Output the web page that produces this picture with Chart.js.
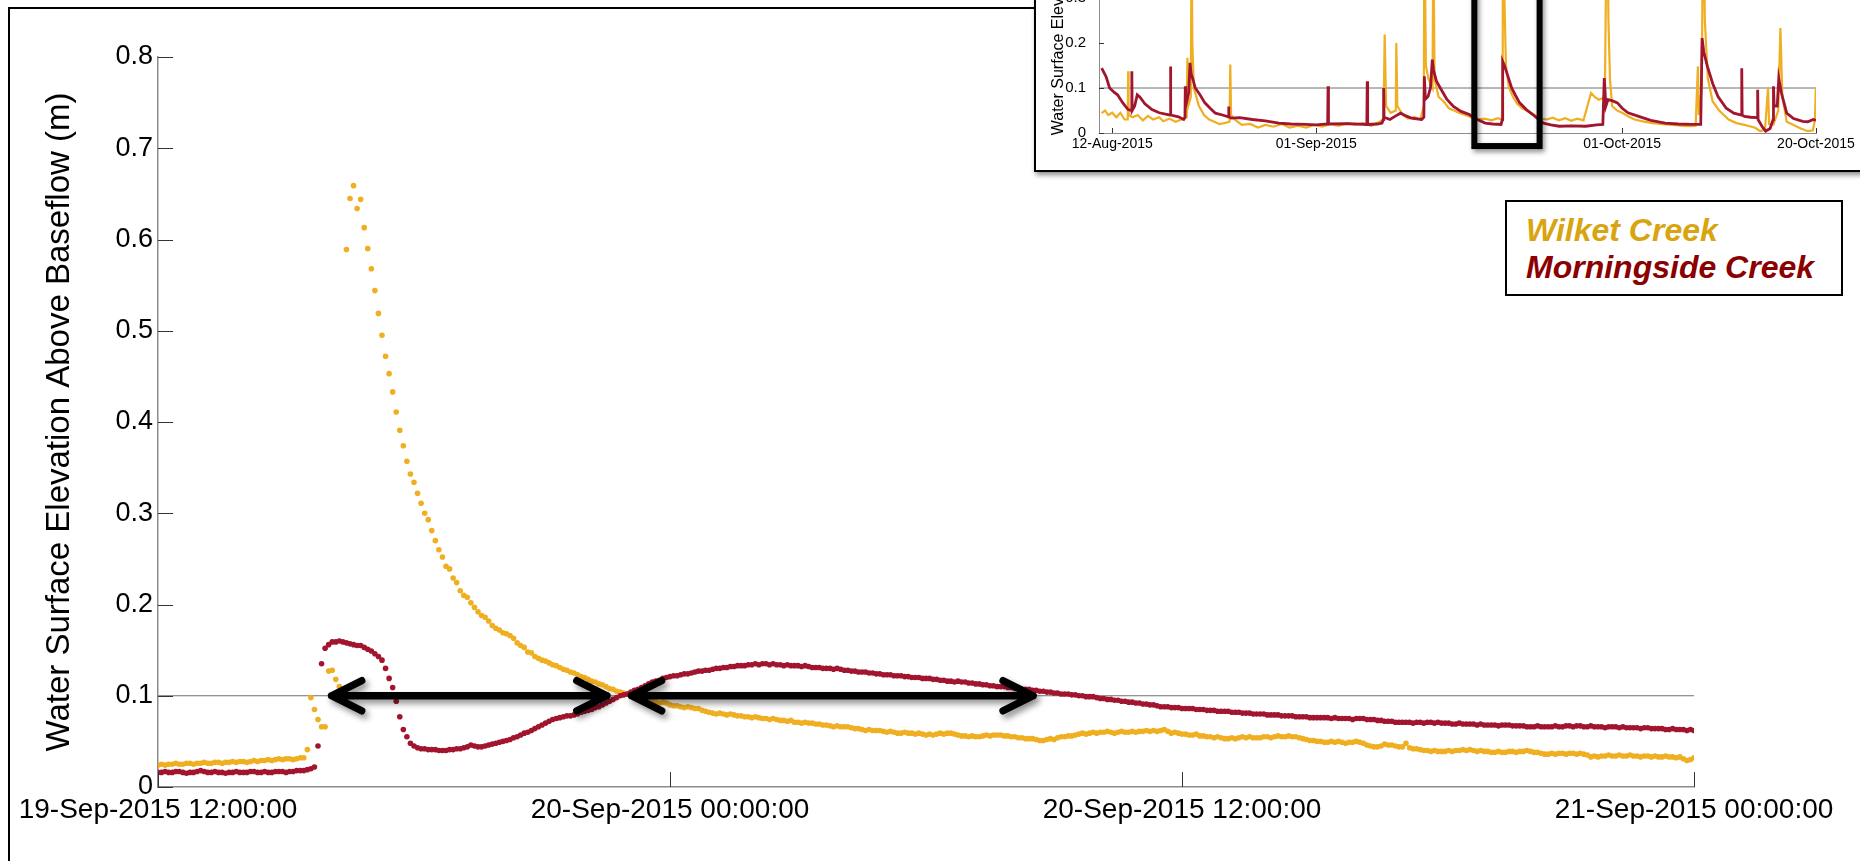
<!DOCTYPE html>
<html>
<head>
<meta charset="utf-8">
<script src="https://cdn.jsdelivr.net/npm/chart.js@4.4.1/dist/chart.umd.min.js"></script>
<style>
  html, body { margin: 0; padding: 0; background: #fff; }
  body { width: 1860px; height: 861px; overflow: hidden; position: relative; font-family: 'Liberation Sans', Arial, Helvetica, sans-serif; }
  #main { position: absolute; left: 0; top: 0; }
  #frame { position: absolute; left: 8px; top: 7px; width: 2000px; height: 1000px; border-left: 2px solid #000; border-top: 2px solid #000; }
  #insetBox { position: absolute; left: 1034px; top: -4px; width: 830px; height: 176px; box-sizing: border-box;
              border: 2px solid #000; background: #fff; overflow: hidden; box-shadow: 2px 3px 5px rgba(0,0,0,0.45); }
  #inset { position: absolute; left: 0; top: -228px; }
  #legend { position: absolute; left: 1505px; top: 200px; width: 338px; height: 96px; box-sizing: border-box;
            border: 2px solid #000; background: #fff; padding: 10px 0 0 19px;
            font: italic bold 32px 'Liberation Sans', Arial, sans-serif; line-height: 37px; white-space: nowrap; }
  #legend .w { color: #D8A40F; }
  #legend .m { color: #8B0000; }
</style>
</head>
<body>
<canvas id="main" width="1860" height="861"></canvas>
<div id="frame"></div>
<div id="insetBox"><canvas id="inset" width="900" height="400"></canvas></div>
<div id="legend"><div class="w">Wilket Creek</div><div class="m">Morningside Creek</div></div>
<script>
// 5-minute water levels, 19-Sep-2015 12:00 to 21-Sep-2015 00:00
const sampleMinutes = 5;
const wilketLevels = [
  0.024,0.025,0.024,0.025,0.025,0.026,0.025,0.025,0.026,0.026,
  0.025,0.026,0.026,0.027,0.026,0.026,0.027,0.027,0.026,0.027,
  0.027,0.028,0.027,0.028,0.028,0.027,0.028,0.029,0.028,0.029,
  0.029,0.030,0.029,0.030,0.031,0.030,0.031,0.031,0.030,0.031,
  0.032,0.032,0.041,0.098,0.085,0.074,0.066,0.066,0.127,0.128,
  0.118,0.110,0.107,0.589,0.645,0.659,0.634,0.644,0.613,0.590,
  0.568,0.544,0.519,0.495,0.472,0.453,0.433,0.411,0.391,0.374,
  0.357,0.343,0.334,0.322,0.311,0.300,0.293,0.281,0.270,0.260,
  0.252,0.242,0.239,0.229,0.224,0.215,0.210,0.208,0.202,0.197,
  0.192,0.188,0.186,0.182,0.177,0.174,0.172,0.169,0.168,0.166,
  0.163,0.158,0.155,0.153,0.148,0.147,0.143,0.141,0.139,0.138,
  0.136,0.134,0.133,0.131,0.129,0.128,0.126,0.125,0.123,0.121,
  0.120,0.118,0.116,0.115,0.113,0.112,0.110,0.108,0.107,0.105,
  0.104,0.103,0.102,0.101,0.100,0.098,0.097,0.096,0.095,0.094,
  0.093,0.092,0.093,0.092,0.090,0.089,0.089,0.088,0.087,0.088,
  0.087,0.086,0.086,0.084,0.083,0.082,0.081,0.080,0.081,0.080,
  0.079,0.080,0.079,0.078,0.078,0.077,0.077,0.076,0.077,0.076,
  0.075,0.075,0.074,0.075,0.074,0.073,0.073,0.072,0.073,0.071,
  0.071,0.070,0.071,0.070,0.070,0.069,0.069,0.068,0.068,0.067,
  0.066,0.067,0.066,0.066,0.066,0.065,0.064,0.064,0.063,0.062,
  0.063,0.062,0.062,0.062,0.061,0.060,0.061,0.060,0.059,0.059,
  0.060,0.059,0.059,0.058,0.059,0.058,0.057,0.058,0.057,0.058,
  0.059,0.058,0.059,0.059,0.058,0.057,0.056,0.056,0.055,0.056,
  0.055,0.055,0.056,0.057,0.056,0.057,0.057,0.057,0.056,0.056,
  0.055,0.055,0.054,0.054,0.053,0.053,0.053,0.052,0.051,0.051,
  0.052,0.053,0.052,0.054,0.055,0.055,0.056,0.056,0.057,0.058,
  0.059,0.058,0.059,0.060,0.059,0.060,0.060,0.061,0.060,0.059,
  0.060,0.061,0.060,0.060,0.061,0.060,0.061,0.061,0.062,0.061,
  0.062,0.061,0.062,0.063,0.061,0.059,0.060,0.059,0.058,0.058,
  0.057,0.057,0.058,0.056,0.056,0.055,0.055,0.054,0.055,0.054,
  0.053,0.053,0.054,0.053,0.054,0.055,0.054,0.055,0.054,0.054,
  0.054,0.055,0.055,0.054,0.055,0.056,0.055,0.055,0.056,0.055,
  0.055,0.054,0.053,0.052,0.051,0.051,0.050,0.050,0.049,0.049,
  0.050,0.049,0.050,0.049,0.048,0.049,0.049,0.050,0.049,0.048,
  0.046,0.045,0.044,0.044,0.045,0.047,0.046,0.046,0.045,0.044,
  0.044,0.048,0.043,0.042,0.042,0.041,0.040,0.040,0.039,0.040,
  0.039,0.039,0.039,0.040,0.039,0.040,0.040,0.041,0.040,0.041,
  0.040,0.039,0.040,0.039,0.039,0.038,0.038,0.039,0.038,0.038,
  0.039,0.039,0.038,0.039,0.039,0.040,0.039,0.038,0.038,0.037,
  0.036,0.036,0.037,0.036,0.037,0.037,0.036,0.037,0.037,0.036,
  0.037,0.036,0.035,0.033,0.034,0.033,0.034,0.034,0.035,0.034,
  0.034,0.035,0.034,0.034,0.035,0.034,0.034,0.033,0.034,0.034,
  0.033,0.034,0.033,0.033,0.034,0.033,0.033,0.032,0.033,0.031,
  0.029,0.030,0.032
];
const morningsideLevels = [
  0.016,0.016,0.017,0.016,0.016,0.017,0.017,0.016,0.015,0.016,
  0.016,0.017,0.018,0.017,0.016,0.016,0.017,0.016,0.016,0.015,
  0.016,0.016,0.017,0.016,0.016,0.016,0.017,0.017,0.016,0.016,
  0.017,0.016,0.016,0.017,0.017,0.017,0.016,0.017,0.017,0.018,
  0.018,0.018,0.019,0.020,0.022,0.045,0.135,0.152,0.156,0.159,
  0.159,0.160,0.159,0.158,0.157,0.156,0.155,0.155,0.153,0.151,
  0.149,0.146,0.143,0.139,0.130,0.119,0.109,0.094,0.077,0.063,
  0.055,0.048,0.045,0.043,0.042,0.042,0.041,0.041,0.041,0.040,
  0.040,0.040,0.041,0.041,0.042,0.042,0.043,0.044,0.046,0.045,
  0.044,0.044,0.045,0.046,0.047,0.048,0.049,0.050,0.051,0.052,
  0.054,0.055,0.057,0.059,0.060,0.062,0.064,0.066,0.068,0.070,
  0.072,0.074,0.075,0.076,0.077,0.078,0.078,0.079,0.080,0.082,
  0.083,0.084,0.085,0.087,0.088,0.090,0.092,0.094,0.096,0.098,
  0.100,0.101,0.102,0.104,0.106,0.107,0.109,0.111,0.113,0.115,
  0.116,0.117,0.119,0.120,0.121,0.122,0.122,0.123,0.124,0.124,
  0.125,0.126,0.127,0.127,0.128,0.128,0.129,0.130,0.130,0.131,
  0.131,0.132,0.132,0.133,0.133,0.133,0.134,0.134,0.135,0.134,
  0.135,0.135,0.134,0.135,0.134,0.134,0.133,0.134,0.133,0.133,
  0.133,0.132,0.133,0.132,0.131,0.131,0.131,0.130,0.130,0.130,
  0.129,0.130,0.129,0.128,0.128,0.127,0.127,0.126,0.126,0.126,
  0.125,0.125,0.124,0.124,0.123,0.123,0.123,0.122,0.122,0.122,
  0.121,0.121,0.120,0.120,0.120,0.119,0.119,0.119,0.118,0.118,
  0.117,0.117,0.116,0.116,0.115,0.116,0.115,0.115,0.114,0.114,
  0.113,0.113,0.112,0.112,0.111,0.111,0.110,0.110,0.110,0.109,
  0.109,0.108,0.108,0.107,0.107,0.107,0.106,0.106,0.105,0.105,
  0.104,0.104,0.103,0.103,0.102,0.102,0.102,0.101,0.101,0.100,
  0.100,0.099,0.099,0.099,0.098,0.097,0.097,0.096,0.096,0.095,
  0.095,0.094,0.094,0.093,0.093,0.092,0.092,0.091,0.091,0.090,
  0.090,0.089,0.088,0.088,0.088,0.087,0.087,0.087,0.086,0.086,
  0.086,0.086,0.085,0.085,0.085,0.084,0.084,0.084,0.083,0.083,
  0.083,0.083,0.082,0.082,0.082,0.081,0.081,0.081,0.080,0.080,
  0.080,0.080,0.079,0.079,0.079,0.079,0.078,0.078,0.078,0.078,
  0.077,0.077,0.077,0.077,0.076,0.076,0.076,0.076,0.076,0.076,
  0.075,0.076,0.075,0.075,0.075,0.075,0.074,0.075,0.075,0.075,
  0.074,0.074,0.074,0.073,0.073,0.072,0.072,0.072,0.071,0.071,
  0.071,0.071,0.071,0.070,0.071,0.071,0.070,0.071,0.071,0.070,
  0.071,0.070,0.070,0.070,0.069,0.069,0.070,0.069,0.069,0.069,
  0.069,0.068,0.069,0.068,0.068,0.068,0.068,0.067,0.068,0.068,
  0.068,0.067,0.067,0.067,0.067,0.066,0.066,0.066,0.067,0.066,
  0.066,0.066,0.066,0.067,0.066,0.066,0.067,0.067,0.066,0.067,
  0.067,0.066,0.066,0.067,0.066,0.066,0.066,0.065,0.066,0.066,
  0.066,0.065,0.066,0.065,0.065,0.065,0.065,0.064,0.065,0.065,
  0.064,0.064,0.064,0.064,0.063,0.063,0.064,0.063,0.063,0.063,
  0.062,0.063,0.062
];
const xTickHours = [0, 12, 24, 36];
const xTickLabels = ['19-Sep-2015 12:00:00', '20-Sep-2015 00:00:00', '20-Sep-2015 12:00:00', '21-Sep-2015 00:00:00'];
const yTickValues = [0, 0.1, 0.2, 0.3, 0.4, 0.5, 0.6, 0.7, 0.8];
const yTitle = 'Water Surface Elevation Above Baseflow (m)';
const baseflowLevel = 0.1;
const arrowSpansHours = [[4.07, 10.52], [11.10, 20.51]];

// inset: whole season, days since 12-Aug-2015
const insetWilket = [[-1.04,0.044],[-0.7,0.050],[-0.4,0.040],[0.0,0.045],[0.4,0.035],[0.8,0.045],[1.2,0.030],[1.52,0.030],[1.56,0.137],[1.6,0.040],[2.0,0.035],[2.5,0.040],[3.0,0.028],[3.5,0.038],[4.0,0.030],[4.6,0.035],[5.0,0.026],[5.6,0.032],[6.2,0.025],[6.8,0.030],[7.3,0.035],[7.37,0.167],[7.45,0.060],[7.7,0.080],[7.78,0.450],[7.85,0.200],[8.0,0.100],[8.5,0.060],[9.0,0.040],[9.5,0.030],[10.0,0.025],[10.5,0.020],[11.0,0.022],[11.5,0.025],[11.57,0.152],[11.65,0.040],[12.0,0.030],[12.7,0.018],[13.5,0.020],[14.3,0.012],[15.0,0.018],[15.8,0.014],[16.6,0.020],[17.4,0.012],[18.2,0.016],[19.0,0.012],[19.8,0.018],[20.6,0.014],[21.4,0.020],[22.2,0.016],[23.0,0.022],[23.8,0.018],[24.6,0.022],[25.4,0.016],[26.2,0.025],[26.6,0.030],[26.71,0.219],[26.85,0.060],[27.3,0.045],[27.8,0.050],[27.85,0.200],[27.95,0.060],[28.5,0.040],[29.0,0.032],[29.6,0.036],[30.2,0.030],[30.55,0.060],[30.6,0.500],[30.75,0.150],[31.0,0.120],[31.4,0.100],[31.48,0.450],[31.6,0.120],[32.0,0.080],[32.5,0.070],[33.0,0.055],[33.5,0.050],[34.0,0.045],[35.0,0.037],[35.8,0.030],[36.5,0.032],[37.2,0.028],[37.8,0.033],[38.2,0.030],[38.28,0.100],[38.32,0.660],[38.45,0.300],[38.6,0.150],[38.9,0.100],[39.3,0.080],[39.7,0.065],[40.2,0.055],[40.8,0.048],[41.4,0.040],[42.0,0.032],[42.6,0.030],[43.2,0.034],[43.8,0.028],[44.4,0.033],[45.0,0.027],[45.6,0.032],[46.2,0.028],[46.94,0.089],[47.3,0.080],[47.72,0.074],[48.3,0.080],[48.5,0.550],[48.65,0.250],[48.8,0.120],[49.01,0.060],[49.5,0.050],[50.0,0.045],[50.57,0.037],[51.2,0.030],[52.0,0.026],[53.0,0.022],[54.2,0.019],[55.0,0.018],[56.0,0.016],[56.8,0.015],[57.2,0.016],[57.42,0.148],[57.5,0.040],[57.8,0.100],[57.94,0.550],[58.1,0.250],[58.4,0.120],[58.87,0.070],[59.5,0.050],[60.43,0.030],[61.2,0.022],[62.0,0.018],[62.5,0.015],[63.0,0.012],[63.54,0.004],[64.0,0.008],[64.3,0.100],[64.4,0.020],[64.83,0.019],[65.3,0.050],[65.51,0.233],[65.7,0.080],[66.13,0.025],[66.8,0.018],[67.5,0.010],[68.21,0.004],[68.7,0.006],[68.9,0.030],[68.98,0.100]];
const insetMorningside = [[-1.04,0.144],[-0.6,0.125],[-0.26,0.100],[0.2,0.090],[0.52,0.085],[1.0,0.068],[1.3,0.059],[1.56,0.052],[1.89,0.050],[1.92,0.137],[1.95,0.050],[2.2,0.060],[2.45,0.085],[2.7,0.080],[3.2,0.065],[3.89,0.052],[4.6,0.045],[5.45,0.041],[5.68,0.040],[5.71,0.148],[5.74,0.040],[6.5,0.036],[7.0,0.030],[7.13,0.035],[7.16,0.104],[7.2,0.060],[7.5,0.090],[7.62,0.156],[7.75,0.130],[7.9,0.120],[8.14,0.100],[8.6,0.085],[9.08,0.067],[9.6,0.055],[10.11,0.044],[10.8,0.040],[11.38,0.036],[11.41,0.059],[11.44,0.036],[11.67,0.033],[12.5,0.034],[13.74,0.030],[15.0,0.027],[16.34,0.022],[17.5,0.020],[18.93,0.019],[20.0,0.018],[21.12,0.020],[21.16,0.104],[21.2,0.020],[23.08,0.021],[24.96,0.019],[25.0,0.115],[25.04,0.019],[26.0,0.020],[26.45,0.022],[26.57,0.030],[26.61,0.100],[26.65,0.035],[27.23,0.030],[27.8,0.038],[28.27,0.044],[28.8,0.038],[29.3,0.033],[30.34,0.030],[30.55,0.035],[30.6,0.126],[30.7,0.075],[30.96,0.081],[31.2,0.100],[31.38,0.163],[31.5,0.140],[31.79,0.115],[32.16,0.100],[32.8,0.075],[33.45,0.059],[34.2,0.048],[35.01,0.041],[35.8,0.030],[36.57,0.022],[37.3,0.020],[38.12,0.019],[38.25,0.030],[38.28,0.159],[38.45,0.150],[38.64,0.137],[39.16,0.100],[39.5,0.085],[39.94,0.067],[40.6,0.052],[41.23,0.041],[41.8,0.030],[42.27,0.022],[43.0,0.018],[43.83,0.015],[45.0,0.016],[46.42,0.015],[47.5,0.018],[48.1,0.019],[48.24,0.122],[48.4,0.060],[48.6,0.074],[49.0,0.072],[49.53,0.067],[50.0,0.055],[50.57,0.045],[51.61,0.037],[52.8,0.028],[54.2,0.022],[55.5,0.020],[56.8,0.019],[57.7,0.019],[57.83,0.211],[58.0,0.180],[58.35,0.148],[58.87,0.110],[59.39,0.081],[60.2,0.055],[60.94,0.044],[61.68,0.040],[61.72,0.144],[61.76,0.040],[61.98,0.037],[62.6,0.035],[63.24,0.034],[63.28,0.096],[63.32,0.030],[63.7,0.015],[64.06,0.004],[64.5,0.010],[64.8,0.030],[64.83,0.104],[64.9,0.060],[65.2,0.060],[65.35,0.122],[65.6,0.090],[66.13,0.044],[66.8,0.032],[67.69,0.026],[68.2,0.025],[68.72,0.030],[68.98,0.028]];
const insetTickDays = [0, 20, 50, 69];
const insetTickLabels = ['12-Aug-2015', '01-Sep-2015', '01-Oct-2015', '20-Oct-2015'];
const insetTickValues = [0, 0.1, 0.2, 0.3, 0.4, 0.5, 0.6, 0.7];
const insetWindowDays = [35.5, 41.9];   // the event shown in the big chart

const YELLOW = '#EFAF21';
const RED = '#A1152E';
const fontFamily = "'Liberation Sans', Arial, Helvetica, sans-serif";
Chart.defaults.font.family = fontFamily;
Chart.defaults.color = '#000';

function toPoints(vals) {
  return vals.map((v, i) => ({ x: i * sampleMinutes / 60, y: v }));
}
function pairsToPoints(pairs) {
  return pairs.map(p => ({ x: p[0], y: p[1] }));
}

/* MATLAB style ticks, pointing into the plot */
const inwardTicks = {
  id: 'inwardTicks',
  afterDraw(chart, args, opts) {
    const { ctx, chartArea: a, scales: { x, y } } = chart;
    ctx.save();
    ctx.strokeStyle = opts.color || '#333';
    ctx.lineWidth = 1;
    ctx.beginPath();
    x.ticks.forEach(t => {
      const px = Math.round(x.getPixelForValue(t.value)) + 0.5;
      ctx.moveTo(px, a.bottom);
      ctx.lineTo(px, a.bottom - opts.length);
    });
    y.ticks.forEach(t => {
      const py = Math.round(y.getPixelForValue(t.value)) + 0.5;
      ctx.moveTo(a.left, py);
      ctx.lineTo(a.left + opts.length, py);
    });
    ctx.stroke();
    ctx.restore();
  }
};

/* double arrows on the baseflow line */
const arrows = {
  id: 'arrows',
  afterDatasetsDraw(chart) {
    const { ctx, scales: { x, y } } = chart;
    const py = y.getPixelForValue(baseflowLevel);
    ctx.save();
    ctx.strokeStyle = '#000';
    ctx.lineWidth = 7.5;
    ctx.lineCap = 'round';
    ctx.lineJoin = 'round';
    ctx.shadowColor = 'rgba(0,0,0,0.45)';
    ctx.shadowBlur = 6;
    ctx.shadowOffsetX = 3;
    ctx.shadowOffsetY = 4;
    arrowSpansHours.forEach(span => {
      const x1 = x.getPixelForValue(span[0]);
      const x2 = x.getPixelForValue(span[1]);
      ctx.beginPath();
      ctx.moveTo(x1, py); ctx.lineTo(x2, py);
      ctx.moveTo(x1 + 30, py - 15); ctx.lineTo(x1, py); ctx.lineTo(x1 + 30, py + 15);
      ctx.moveTo(x2 - 30, py - 15); ctx.lineTo(x2, py); ctx.lineTo(x2 - 30, py + 15);
      ctx.stroke();
    });
    ctx.restore();
  }
};

/* black box in the inset marking the zoomed event */
const windowBox = {
  id: 'windowBox',
  afterDraw(chart) {
    const { ctx, scales: { x, y } } = chart;
    const x1 = x.getPixelForValue(insetWindowDays[0]);
    const x2 = x.getPixelForValue(insetWindowDays[1]);
    const yb = y.getPixelForValue(-0.029);
    const yt = y.getPixelForValue(0.75);
    ctx.save();
    ctx.strokeStyle = '#000';
    ctx.lineWidth = 6;
    ctx.shadowColor = 'rgba(0,0,0,0.45)';
    ctx.shadowBlur = 5;
    ctx.shadowOffsetX = 2;
    ctx.shadowOffsetY = 3;
    ctx.strokeRect(x1, yt, x2 - x1, yb - yt);
    ctx.restore();
  }
};

/* Main graph */
new Chart(document.getElementById('main'), {
  type: 'scatter',
  data: {
    datasets: [{
      label: 'Baseflow',
      type: 'line',
      data: [{ x: xTickHours[0], y: baseflowLevel }, { x: xTickHours[xTickHours.length - 1], y: baseflowLevel }],
      borderColor: '#707070',
      borderWidth: 1.2,
      pointRadius: 0,
      order: 3
    }, {
      label: 'Wilket Creek',
      data: toPoints(wilketLevels),
      backgroundColor: YELLOW,
      borderWidth: 0,
      pointRadius: 2.8,
      order: 2
    }, {
      label: 'Morningside Creek',
      data: toPoints(morningsideLevels),
      backgroundColor: RED,
      borderWidth: 0,
      pointRadius: 2.8,
      order: 1
    }]
  },
  options: {
    responsive: false,
    animation: false,
    devicePixelRatio: 1,
    layout: { padding: { top: 57, right: 166, bottom: 0, left: 0 } },
    plugins: {
      legend: { display: false },
      tooltip: { enabled: false },
      inwardTicks: { length: 15, color: '#333' }
    },
    scales: {
      x: {
        type: 'linear',
        min: xTickHours[0],
        max: xTickHours[xTickHours.length - 1],
        afterBuildTicks: s => { s.ticks = xTickHours.map(v => ({ value: v })); },
        afterFit: s => { s.height = 74; },
        ticks: {
          callback: (v, i) => xTickLabels[i],
          font: { size: 28 },
          color: '#000',
          autoSkip: false,
          maxRotation: 0,
          padding: 6
        },
        grid: { display: false, drawTicks: false },
        border: { display: true, color: '#8c8c8c', width: 1.5 }
      },
      y: {
        min: 0,
        max: 0.8,
        afterBuildTicks: s => { s.ticks = yTickValues.map(v => ({ value: v })); },
        afterFit: s => { s.width = 158; },
        ticks: {
          callback: v => v === 0 ? '0' : v.toFixed(1),
          font: { size: 27 },
          color: '#000',
          padding: 5
        },
        title: {
          display: true,
          text: yTitle,
          font: { size: 33 },
          color: '#000',
          padding: { top: 40, bottom: 0 }
        },
        grid: { display: false, drawTicks: false },
        border: { display: true, color: '#8c8c8c', width: 1.5 }
      }
    }
  },
  plugins: [inwardTicks, arrows]
});

/* Inset: whole monitoring season */
new Chart(document.getElementById('inset'), {
  type: 'scatter',
  data: {
    datasets: [{
      label: 'Baseflow',
      type: 'line',
      data: [{ x: -1.3, y: baseflowLevel }, { x: insetTickDays[insetTickDays.length - 1], y: baseflowLevel }],
      borderColor: '#707070',
      borderWidth: 1,
      pointRadius: 0,
      order: 3
    }, {
      label: 'Wilket Creek',
      data: pairsToPoints(insetWilket),
      showLine: true,
      borderColor: YELLOW,
      borderWidth: 2.2,
      pointRadius: 0,
      order: 2
    }, {
      label: 'Morningside Creek',
      data: pairsToPoints(insetMorningside),
      showLine: true,
      borderColor: RED,
      borderWidth: 2.8,
      pointRadius: 0,
      order: 1
    }]
  },
  options: {
    responsive: false,
    animation: false,
    devicePixelRatio: 1,
    layout: { padding: { top: 48, right: 120, bottom: 0, left: 0 } },
    plugins: {
      legend: { display: false },
      tooltip: { enabled: false },
      inwardTicks: { length: 5, color: '#333' }
    },
    scales: {
      x: {
        type: 'linear',
        min: -1.3,
        max: insetTickDays[insetTickDays.length - 1],
        afterBuildTicks: s => { s.ticks = insetTickDays.map(v => ({ value: v })); },
        afterFit: s => { s.height = 37; },
        ticks: {
          callback: (v, i) => insetTickLabels[i],
          font: { size: 14 },
          color: '#000',
          autoSkip: false,
          maxRotation: 0,
          padding: 3
        },
        grid: { display: false, drawTicks: false },
        border: { display: true, color: '#8c8c8c', width: 1 }
      },
      y: {
        min: 0,
        max: 0.7,
        afterBuildTicks: s => { s.ticks = insetTickValues.map(v => ({ value: v })); },
        afterFit: s => { s.width = 63; },
        ticks: {
          callback: v => v === 0 ? '0' : v.toFixed(1),
          font: { size: 15 },
          color: '#000',
          padding: 13
        },
        title: {
          display: true,
          text: yTitle,
          font: { size: 16 },
          color: '#000',
          padding: { top: 13, bottom: 0 }
        },
        grid: { display: false, drawTicks: false },
        border: { display: true, color: '#8c8c8c', width: 1 }
      }
    }
  },
  plugins: [inwardTicks, windowBox]
});
</script>
</body>
</html>
